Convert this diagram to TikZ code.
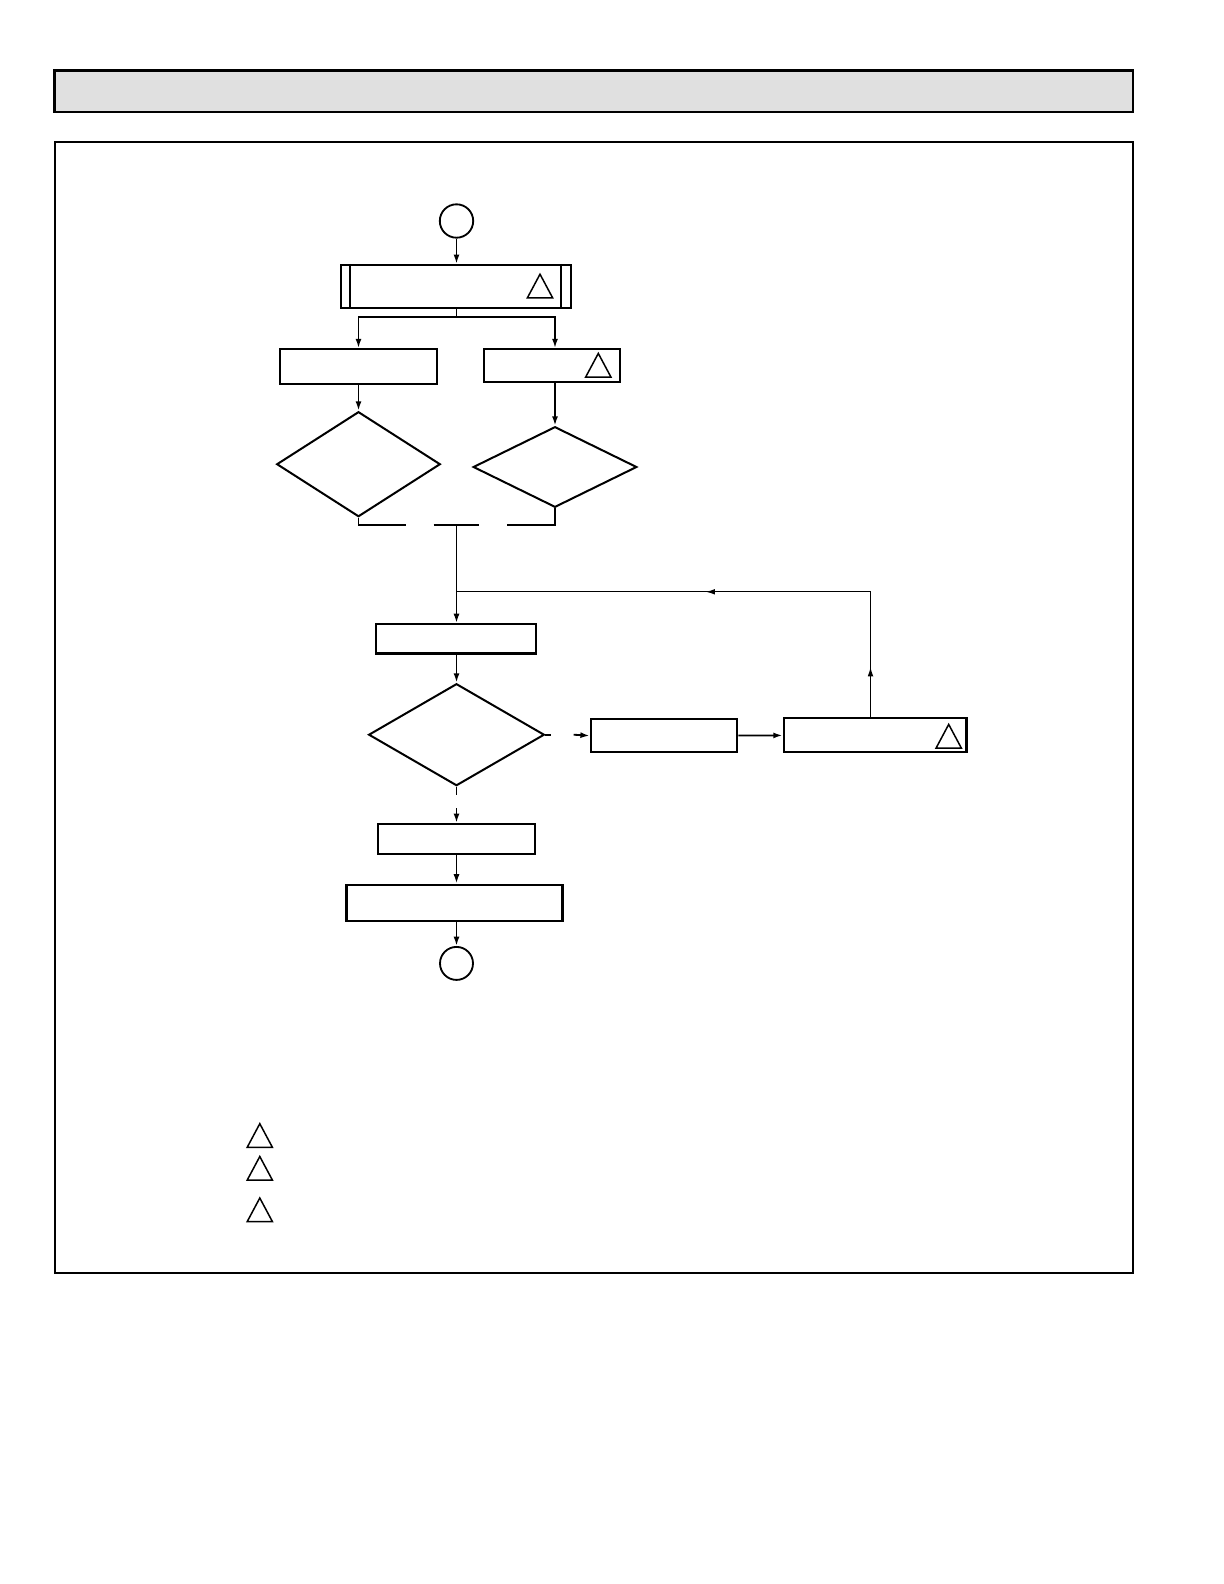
\documentclass[tikz,border=0pt]{standalone}
\usetikzlibrary{shapes.geometric,arrows.meta,decorations.markings}
\definecolor{hdrgray}{HTML}{E0E0E0}
\tikzset{
  boxst/.style={draw, line width=1.3pt, rectangle, inner sep=0pt},
  decst/.style={draw, line width=1.2pt, diamond, inner sep=0pt, aspect=1},
  termst/.style={draw, line width=1.1pt, circle, inner sep=0pt},
  conn/.style={line width=1.1pt},
  thin conn/.style={line width=0.8pt},
  arr/.style={conn, -{Latex[length=5.6pt,width=3.6pt]}},
  tri/.style={draw, line width=0.9pt, line join=miter},
  warn/.pic={\draw[tri] (-12.6,11.8) -- (0,-11.8) -- (12.6,11.8) -- cycle;}
}
\begin{document}
\begin{tikzpicture}[x=0.6pt,y=-0.6pt]
\useasboundingbox (0,0) rectangle (1224,1584);
% header and frame
\draw[fill=hdrgray, line width=1.5pt] (54.5,70.7) rectangle (1133,112);
\draw[line width=1.2pt] (54.5,142.4) rectangle (1133,1272.5);

% nodes
\node[termst, minimum size=33.4*0.6pt] (start) at (456.5,221) {};
\node[boxst, minimum width=230*0.6pt, minimum height=42.7*0.6pt] (top) at (455.7,286.3) {};
\draw[line width=1.2pt] ([xshift=10.5*0.6pt]top.north west) -- ([xshift=10.5*0.6pt]top.south west);
\draw[line width=1.2pt] ([xshift=-11*0.6pt]top.north east) -- ([xshift=-11*0.6pt]top.south east);
\pic at (540,286) {warn};

\node[boxst, minimum width=156.7*0.6pt, minimum height=35*0.6pt] (boxL) at (358.4,366.8) {};
\node[boxst, minimum width=136*0.6pt, minimum height=32.7*0.6pt] (boxR) at (552,365.6) {};
\pic at (598.3,365.2) {warn};

\node[decst, minimum width=163.6*0.6pt, minimum height=105*0.6pt] (dL) at (358.5,464.2) {};
\node[decst, minimum width=163.7*0.6pt, minimum height=80.6*0.6pt] (dR) at (555,467) {};

\node[boxst, minimum width=160.6*0.6pt, minimum height=29.3*0.6pt] (mid) at (456,638.8) {};
\node[decst, minimum width=175.7*0.6pt, minimum height=102*0.6pt] (d3) at (456.5,734.7) {};
\node[boxst, minimum width=146.4*0.6pt, minimum height=33.4*0.6pt] (box2) at (664,735.7) {};
\node[boxst, minimum width=182.8*0.6pt, minimum height=34.4*0.6pt] (box3) at (875.1,735.2) {};
\pic at (948.7,736.2) {warn};

\node[boxst, minimum width=157.5*0.6pt, minimum height=30.4*0.6pt] (box4) at (456.5,839.2) {};
\node[boxst, minimum width=216*0.6pt, minimum height=36.3*0.6pt] (box5) at (454.5,902.8) {};
\node[termst, minimum size=33*0.6pt] (stop) at (456.5,963.4) {};

% helper coordinates
\coordinate (br) at (456.5,316.7);
\coordinate (mL) at (358.5,525);
\coordinate (mR) at (555,525);
\coordinate (mC) at (456.5,525);
\coordinate (join) at (456.5,591.8);
\coordinate (lr) at (870.5,591.8);
\coordinate (d3r) at (551,734.7);
\coordinate (d3rr) at (573.6,734.7);
\coordinate (d3b) at (456.5,794.5);
\coordinate (d3bb) at (456.5,808);

% connectors
\draw[arr] (start) -- (top.north -| start);
\draw[conn] (top.south -| br) -- (br);
\draw[arr] (br) -| (boxL.north -| dL.north);
\draw[arr] (br) -| (boxR.north -| dR.north);
\draw[arr] (boxL.south -| dL.north) -- (dL.north);
\draw[arr] (boxR.south -| dR.north) -- (dR.north);

\draw[conn] (dL.south) -- (mL) -- (405.7,525);
\draw[conn] (433.7,525) -- (478.7,525);
\draw[conn] (dR.south) -- (mR) -- (507,525);
\draw[arr] (mC) -- (mid.north -| mC);

\draw[thin conn, postaction={decorate}, decoration={markings,
  mark=at position 30pt with {\arrow{Latex[length=5.6pt,width=3.4pt]}},
  mark=at position 174pt with {\arrow{Latex[length=5.6pt,width=3.4pt]}}}]
  (box3.north -| lr) -- (lr) -- (join);

\draw[arr] (mid.south -| d3.north) -- (d3.north);
\draw[conn] (d3.east) -- (d3r);
\draw[arr] (d3rr) -- (box2.west);
\draw[arr] (box2) -- (box3);
\draw[conn] (d3.south) -- (d3b);
\draw[arr] (d3bb) -- (box4.north);
\draw[arr] (box4.south) -- (box5.north -| box4.south);
\draw[arr] (box5.south -| stop.north) -- (stop);

% legend triangles
\pic at (259.8,1135.5) {warn};
\pic at (259.8,1168.3) {warn};
\pic at (259.8,1209.8) {warn};
\end{tikzpicture}
\end{document}
